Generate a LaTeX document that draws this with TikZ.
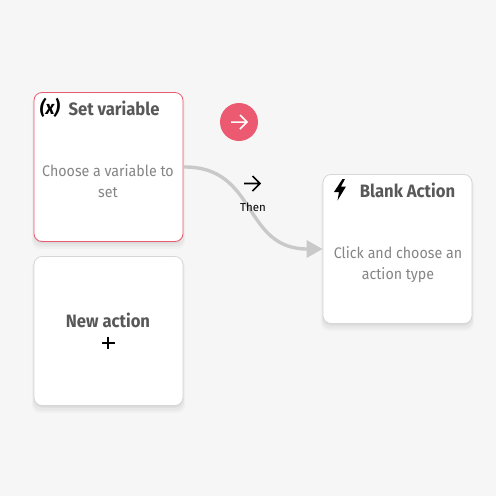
\documentclass[tikz,border=0pt]{standalone}
\usepackage{fontspec}
\setmainfont[FakeStretch=0.93]{Fira Sans}
\newfontfamily\labelfont{Fira Sans}
\usetikzlibrary{arrows.meta,shadows}
\definecolor{pagebg}{HTML}{F6F6F6}
\definecolor{accent}{HTML}{EC5A71}
\definecolor{titlegray}{HTML}{585858}
\definecolor{bodygray}{HTML}{858585}
\definecolor{linegray}{HTML}{C9C9C9}
\definecolor{bordergray}{HTML}{D6D6D6}
\tikzset{
    softshadow/.style = {
        drop shadow = {shadow xshift=0pt,shadow yshift=-5pt,shadow scale=1.03,fill=black,opacity=0.025},
        drop shadow = {shadow xshift=0pt,shadow yshift=-4pt,shadow scale=1.015,fill=black,opacity=0.035},
        drop shadow = {shadow xshift=0pt,shadow yshift=-2pt,fill=black,opacity=0.05}},
    card/.style = {draw=#1,line width=0.8pt,fill=white,rounded corners=8pt,minimum size=149pt,inner sep=0pt,softshadow},
    cardtitle/.style = {text=titlegray,font=\fontsize{17.9}{20}\selectfont\bfseries},
    cardbody/.style = {text=bodygray,align=center,font=\fontsize{15.3}{21}\selectfont},
    iconline/.style = {line width=1.6pt,black}
}
\begin{document}
\begin{tikzpicture}[x=1pt,y=-1pt]
    \useasboundingbox (0,0) rectangle (496,496);
    \fill [pagebg] (0,0) rectangle (496,496);
    % cards
    \node [card=accent] (setvar) at (108.5,167) {};
    \node [card=bordergray] (newaction) at (108.5,331) {};
    \node [card=bordergray] (blank) at (397.5,249) {};
    % connector
    \draw [linegray,line width=3.4pt,-{Triangle[length=16pt,width=17pt]}]
        (setvar.east) .. controls (258,166) and (242,249) .. (blank.west);
    % first card
    \node [text=black,font=\fontsize{19}{21}\selectfont\bfseries\itshape] (xicon) at (50,107.5) {(x)};
    \node [cardtitle] (settitle) at (114,108) {Set variable};
    \node [cardbody] (setbody) at (108,181.5) {Choose a variable to\\set};
    % second card
    \node [cardtitle] (newtitle) at (108,320) {New action};
    \draw [iconline] (102,343) -- (114.5,343) (108.2,336.7) -- (108.2,349);
    % third card
    \node [cardtitle] (blanktitle) at (407.5,190) {Blank Action};
    \node [cardbody] (blankbody) at (398,264.5) {Click and choose an\\action type};
    \fill [black] (342.5,179) -- (334,192) -- (339,192) -- (337.5,200.5) -- (346,186.5) -- (341,186.5) -- (345,179) -- cycle;
    % round button
    \node [circle,fill=accent,minimum size=38pt,inner sep=0pt] (runbtn) at (239,122) {};
    \draw [white,line width=1.5pt] (231,122) -- (246.5,122) (240,115) -- (247,122) -- (240,129);
    % label on the connector
    \draw [iconline] (244,183.5) -- (259.5,183.5) (252.5,176) -- (260,183.5) -- (252.5,191);
    \node [text=black,font=\labelfont\fontsize{11.5}{13}\selectfont] (thenlabel) at (253,207) {Then};
\end{tikzpicture}
\end{document}
